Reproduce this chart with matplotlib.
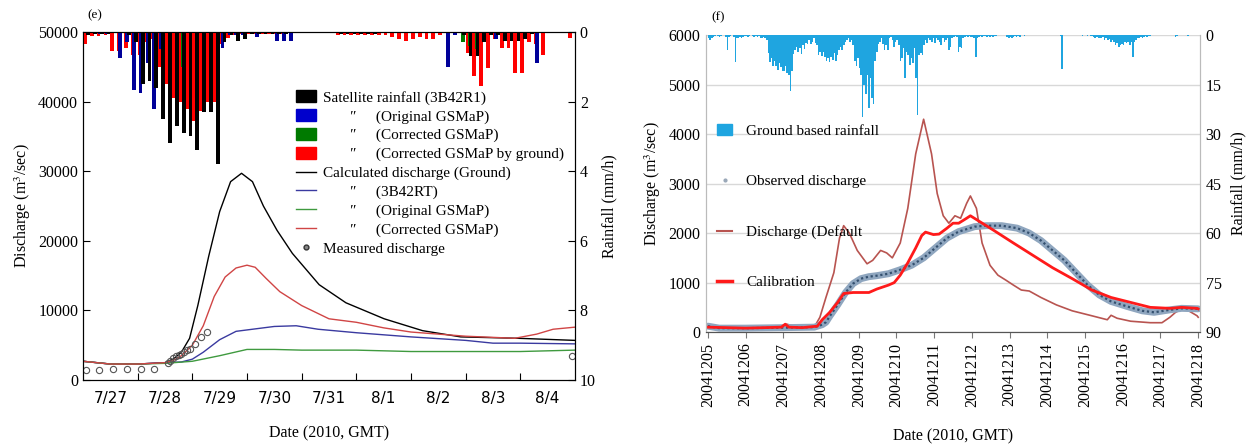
import numpy as np
import matplotlib
matplotlib.use("Agg")
import matplotlib.pyplot as plt
from matplotlib.patches import Patch
from matplotlib.lines import Line2D

plt.rcParams['font.family'] = ['Liberation Serif', 'DejaVu Serif']
plt.rcParams['mathtext.fontset'] = 'stix'

# ---------------- panel (e) data ----------------
day_labels_e = ['7/27', '7/28', '7/29', '7/30', '7/31', '8/1', '8/2', '8/3', '8/4']

# 3-hourly rainfall (mm/h), one row per day
rain_3b42 = [0.1, 0.05, 0.05, 0.05, 0, 0, 0.1, 0.3,
             1.5, 1.4, 1.6, 2.5, 3.2, 2.7, 2.9, 3.0,
             3.4, 2.3, 2.3, 3.8, 0.3, 0.1, 0.25, 0.2,
             0.05, 0.05, 0.05, 0.05, 0.05, 0.05, 0, 0,
             0, 0, 0, 0, 0, 0.05, 0.05, 0.05,
             0.05, 0.05, 0.05, 0, 0, 0, 0, 0,
             0, 0, 0, 0, 0, 0, 0, 0.1,
             0.7, 0.7, 0.3, 0.1, 0.1, 0.25, 0.25, 0.25,
             0.2, 0.05, 0, 0, 0, 0, 0, 0]
rain_gsmap = [0, 0, 0.05, 0.05, 0, 0.74, 0.3, 1.68,
              1.74, 0.9, 2.2, 0.5, 0, 0, 0, 0,
              0, 0, 0, 0, 0.45, 0.1, 0.1, 0.1,
              0, 0.15, 0, 0, 0.25, 0.25, 0.25, 0,
              0, 0, 0, 0, 0, 0, 0, 0,
              0, 0, 0, 0, 0, 0, 0, 0,
              0, 0, 0, 0, 0, 1.0, 0.1, 0,
              0, 0, 0, 0, 0.2, 0, 0, 0,
              0, 0, 0.88, 0, 0, 0, 0, 0]
rain_corr = [0, 0, 0, 0, 0, 0, 0, 0,
             0, 0, 0, 0, 0, 0, 1.0, 0,
             0, 0, 0, 0, 0, 0, 0, 0,
             0, 0, 0, 0, 0, 0, 0, 0,
             0, 0, 0, 0, 0, 0, 0, 0,
             0, 0, 0, 0, 0, 0, 0, 0,
             0, 0, 0, 0, 0, 0, 0, 0.3,
             0.4, 0.5, 0, 0, 0, 0, 0, 0,
             0, 0, 0, 0, 0, 0, 0, 0]
rain_ground = [0.36, 0.12, 0.12, 0.1, 0.55, 0.55, 0.45, 0.65,
               0.65, 0.3, 0.2, 1.0, 1.5, 1.9, 2.0, 2.2,
               2.55, 2.27, 2.0, 2.0, 0.36, 0.17, 0.1, 0.05,
               0.05, 0.05, 0.05, 0.05, 0.05, 0.05, 0, 0,
               0, 0, 0, 0, 0, 0.08, 0.08, 0.08,
               0.08, 0.08, 0.08, 0.08, 0.08, 0.15, 0.2, 0.25,
               0.2, 0.15, 0.2, 0.2, 0.1, 0, 0, 0,
               0.6, 1.27, 1.55, 1.03, 0.2, 0.45, 0.45, 1.17,
               1.17, 0.3, 0.36, 0.65, 0, 0, 0, 0.17]

# calculated discharge (days since 7/27 00:00, m3/s)
t_black = [0, 0.5, 1.0, 1.5, 1.65, 1.8, 1.95, 2.1, 2.3, 2.5, 2.7, 2.9, 3.1, 3.3,
           3.55, 3.83, 4.32, 4.81, 5.51, 6.21, 6.91, 7.96, 9.0]
q_black = [2700, 2300, 2300, 2500, 3000, 4000, 6000, 10700, 17800, 24200, 28500,
           29700, 28500, 25000, 21500, 18200, 13700, 11100, 8800, 7100, 6200, 6000, 5700]
t_blue = [0, 0.5, 1.0, 1.5, 1.8, 2.0, 2.2, 2.5, 2.8, 3.2, 3.5, 3.9, 4.3, 5.0, 6.0,
          7.0, 7.5, 8.0, 9.0]
q_blue = [2700, 2300, 2300, 2500, 2600, 3000, 4000, 5800, 7000, 7400, 7700, 7800,
          7300, 6800, 6200, 5700, 5300, 5300, 5200]
t_green = [0, 0.5, 1.0, 1.5, 2.0, 2.5, 3.0, 3.5, 4.0, 5.0, 6.0, 7.0, 8.0, 9.0]
q_green = [2700, 2300, 2300, 2400, 2700, 3500, 4400, 4400, 4300, 4300, 4100, 4100,
           4100, 4300]
t_red = [0, 0.5, 1.0, 1.5, 1.65, 1.8, 2.0, 2.2, 2.4, 2.6, 2.8, 3.0, 3.15, 3.35, 3.6,
         4.0, 4.5, 5.0, 5.5, 6.0, 7.0, 7.9, 8.3, 8.6, 9.0]
q_red = [2700, 2300, 2300, 2500, 2800, 3500, 5000, 7800, 12000, 14800, 16100, 16500,
         16200, 14600, 12700, 10700, 8800, 8300, 7500, 6900, 6300, 6000, 6600, 7300, 7600]
t_meas = [0.06, 0.3, 0.55, 0.81, 1.06, 1.3, 1.55, 1.6, 1.65, 1.7, 1.75, 1.8, 1.85,
          1.9, 1.95, 2.05, 2.15, 2.27, 8.95]
q_meas = [1400, 1400, 1650, 1650, 1650, 1650, 2500, 2800, 3100, 3400, 3600, 3800,
          4000, 4300, 4500, 5200, 6200, 6900, 3400]

# ---------------- panel (f) data ----------------
date_labels_f = ['20041205', '20041206', '20041207', '20041208', '20041209',
                 '20041210', '20041211', '20041212', '20041213', '20041214',
                 '20041215', '20041216', '20041217', '20041218']

# hourly ground rainfall (mm/h), one row per day
rain_f = [
    [1.0, 1.5, 1.0, 0.5, 0.3, 0, 0.3, 0.5, 0.3, 0, 0, 0.5, 4.6, 0.5, 0.3, 0, 0.5, 8.3, 1.0, 0.8, 0.5, 1.0, 0.5, 0.3],
    [0.3, 0.5, 0.3, 0, 0.3, 0.5, 0.3, 0.5, 0.3, 0.8, 1.0, 0.5, 1.0, 1.5, 5.5, 8.3, 7.0, 9.3, 8.0, 9.5, 10.5, 8.5, 9.8, 11.0],
    [10.9, 9.5, 11.5, 12.0, 17.0, 11.0, 5.7, 4.5, 3.5, 5.0, 4.0, 5.7, 3.0, 4.2, 2.5, 2.6, 1.5, 2.6, 2.0, 1.0, 2.5, 3.0, 6.0, 5.0],
    [6.2, 5.0, 6.5, 8.0, 7.0, 8.3, 6.5, 7.5, 5.5, 8.0, 6.0, 4.6, 3.5, 4.6, 3.0, 2.0, 1.5, 1.0, 2.0, 1.5, 3.0, 8.0, 9.5, 7.0],
    [10.0, 12.0, 24.8, 15.0, 18.0, 12.0, 22.0, 13.0, 19.0, 21.0, 8.0, 5.0, 2.6, 2.0, 1.0, 2.6, 4.6, 3.0, 4.6, 1.0, 0.5, 1.5, 3.5, 2.0],
    [1.5, 3.0, 7.8, 7.0, 4.0, 13.0, 5.0, 6.0, 9.0, 7.0, 8.5, 4.0, 13.0, 24.3, 6.0, 5.5, 6.0, 3.0, 1.5, 2.5, 1.0, 1.5, 2.0, 1.0],
    [2.5, 1.0, 1.5, 2.0, 3.0, 1.0, 2.0, 1.5, 1.0, 4.6, 3.5, 1.0, 0.5, 0.3, 0.5, 5.2, 3.5, 4.0, 1.0, 0.5, 0.3, 0.5, 0.3, 0.5],
    [0.5, 0.8, 6.7, 1.0, 0.5, 0.3, 0.5, 0.3, 0.3, 0.5, 0.3, 0.5, 0.3, 0.5, 0.3, 0.3, 0, 0, 0, 0, 0, 0, 0.5, 0.8],
    [0.5, 0.8, 0.5, 0.3, 0.5, 0.3, 0.5, 0, 0, 0.3, 0, 0, 0, 0, 0, 0, 0, 0, 0, 0, 0, 0, 0, 0],
    [0, 0, 0, 0, 0, 0, 0, 0, 0.3, 10.3, 0, 0, 0, 0, 0, 0, 0, 0, 0, 0, 0, 0, 0.3, 0],
    [0, 0.3, 0, 0.3, 0.3, 0.5, 0.8, 0.5, 1.0, 0.8, 1.0, 0.5, 1.5, 1.0, 1.5, 1.2, 2.0, 1.5, 2.0, 3.0, 2.5, 3.6, 3.0, 2.6],
    [3.0, 2.0, 2.5, 2.0, 3.0, 2.0, 6.7, 2.0, 1.5, 1.0, 0.8, 0.5, 0.8, 0.5, 0.3, 0.5, 0.3, 0.3, 0, 0, 0, 0, 0, 0],
    [0, 0, 0, 0, 0, 0, 0, 0, 0, 0.5, 0.3, 0, 0, 0, 0, 0, 0, 0.3, 0, 0, 0, 0, 0, 0],
]

# discharge (days since 12/05 00:00, m3/s)
obs_t = [0, 0.3, 1.0, 2.0, 2.82, 3.03, 3.13, 3.23, 3.44, 3.65, 3.85, 4.06, 4.27, 4.48,
         4.79, 5.1, 5.4, 5.72, 6.03, 6.34, 6.65, 7.07, 7.38, 7.79, 8.2, 8.52, 8.83,
         9.14, 9.45, 9.76, 10.07, 10.38, 10.69, 11.11, 11.52, 11.83, 12.25, 12.56, 13.0]
obs_q = [120, 80, 80, 90, 100, 150, 200, 320, 550, 800, 980, 1080, 1120, 1140, 1180,
         1260, 1350, 1500, 1700, 1900, 2030, 2130, 2150, 2150, 2100, 2000, 1850, 1650,
         1450, 1200, 950, 750, 620, 520, 430, 400, 450, 480, 470]
cal_t = [0, 1.0, 1.5, 1.95, 2.05, 2.15, 2.5, 2.9, 3.03, 3.23, 3.44, 3.6, 3.85, 4.27,
         4.48, 4.79, 4.94, 5.1, 5.3, 5.51, 5.67, 5.77, 5.98, 6.13, 6.34, 6.5, 6.65,
         6.86, 6.96, 7.17, 7.59, 8.1, 8.62, 9.14, 9.66, 10.18, 10.69, 11.21, 11.73,
         12.25, 12.56, 12.97, 13.0]
cal_q = [100, 80, 90, 100, 160, 100, 90, 120, 250, 400, 600, 780, 800, 800, 870, 950,
         1000, 1150, 1400, 1700, 1950, 2020, 1970, 1980, 2100, 2200, 2200, 2300, 2350,
         2250, 2050, 1800, 1550, 1300, 1080, 850, 700, 600, 500, 480, 500, 480, 470]
def_t = [0, 1.0, 1.9, 2.09, 2.4, 2.82, 2.97, 3.13, 3.34, 3.49, 3.6, 3.75, 3.96, 4.22,
         4.37, 4.58, 4.74, 4.89, 5.1, 5.3, 5.51, 5.72, 5.93, 6.08, 6.24, 6.39, 6.55,
         6.7, 6.86, 6.96, 7.12, 7.27, 7.48, 7.69, 7.9, 8.1, 8.31, 8.52, 8.83, 9.24,
         9.66, 10.18, 10.59, 10.69, 10.85, 11.21, 11.73, 12.04, 12.25, 12.4, 12.61,
         12.77, 12.97, 13.0]
def_q = [100, 80, 90, 160, 100, 100, 300, 700, 1200, 1900, 2150, 2000, 1650, 1380,
         1450, 1650, 1600, 1500, 1800, 2500, 3600, 4300, 3600, 2800, 2350, 2200, 2350,
         2300, 2600, 2750, 2500, 1800, 1350, 1150, 1050, 950, 850, 830, 700, 550, 430,
         330, 250, 340, 280, 220, 190, 190, 300, 400, 480, 420, 330, 300]

fig = plt.figure(figsize=(12.54, 4.44), dpi=100)

# ================= panel (e) =================
ax = fig.add_axes([0.0662, 0.144, 0.3923, 0.784])
lw = 1.0
ax.plot(t_black, q_black, color='black', lw=lw)
ax.plot(t_blue, q_blue, color='#3a3aa0', lw=lw)
ax.plot(t_green, q_green, color='#3f9a3f', lw=lw)
ax.plot(t_red, q_red, color='#d04545', lw=lw)
ax.plot(t_meas, q_meas, ls='none', marker='o', ms=4.5, mfc='none', mec='#555555', mew=0.8)
ax.set_xlim(0, 9)
ax.set_ylim(0, 50000)
ax.set_yticks(np.arange(0, 50001, 10000))
ax.set_xticks(np.arange(1, 9))
ax.set_xticklabels([])
ax.set_xticks(np.arange(9) + 0.5, minor=True)
ax.set_xticklabels(day_labels_e, minor=True, family=['Liberation Sans Narrow', 'DejaVu Sans'],
                   fontsize=11)
ax.tick_params(axis='x', which='major', direction='in', length=5)
ax.tick_params(axis='x', which='minor', length=0, pad=8)
ax.tick_params(axis='y', direction='in', length=5, labelsize=11.5)
ax.set_ylabel('Discharge (m$^3$/sec)', fontsize=11.5, labelpad=4)
ax.set_xlabel('Date (2010, GMT)', fontsize=11.5, labelpad=14)
fig.text(0.070, 0.965, '(e)', fontsize=9.5, ha='left', va='center')

axr = ax.twinx()
slot = 0.125
bw = slot * 0.55
n = len(rain_3b42)
base = np.arange(n) * slot
axr.bar(base, rain_ground, width=bw, align='edge', color='#ff0000', lw=0)
axr.bar(base + 0.15 * slot, rain_gsmap, width=bw, align='edge', color='#000099', lw=0)
axr.bar(base + 0.30 * slot, rain_corr, width=bw, align='edge', color='#007a00', lw=0)
axr.bar(base + 0.45 * slot, rain_3b42, width=bw, align='edge', color='black', lw=0)
axr.set_ylim(10, 0)
axr.set_yticks(np.arange(0, 11, 2))
axr.tick_params(axis='y', direction='in', length=5, labelsize=11.5)
axr.set_ylabel('Rainfall (mm/h)', fontsize=11.5, labelpad=4)
axr.set_xlim(0, 9)

q2 = '\u2033'
handles = [Patch(color='black'), Patch(color='#0000cc'), Patch(color='#007a00'),
           Patch(color='#ff0000'),
           Line2D([], [], color='black', lw=1), Line2D([], [], color='#3a3aa0', lw=1),
           Line2D([], [], color='#3f9a3f', lw=1), Line2D([], [], color='#d04545', lw=1),
           Line2D([], [], ls='none', marker='o', ms=3.5, mfc='#888888', mec='#333333')]
pre = '       ' + q2 + '     '
labels = ['Satellite rainfall (3B42R1)',
          pre + '(Original GSMaP)',
          pre + '(Corrected GSMaP)',
          pre + '(Corrected GSMaP by ground)',
          'Calculated discharge (Ground)',
          pre + '(3B42RT)',
          pre + '(Original GSMaP)',
          pre + '(Corrected GSMaP)',
          'Measured discharge']
leg = axr.legend(handles, labels, loc='upper left', bbox_to_anchor=(0.42, 0.85),
                 frameon=False, fontsize=11, handlelength=1.3, handleheight=0.8,
                 handletextpad=0.5, labelspacing=0.3, borderaxespad=0)

# ================= panel (f) =================
bx = fig.add_axes([0.563, 0.252, 0.394, 0.669])
bx.grid(axis='y', color='#d8d8d8', lw=1)
bx.set_axisbelow(True)
bx.plot(def_t, def_q, color='#b85450', lw=1.2)
bx.plot(obs_t, obs_q, color='#8fa6bf', lw=5, solid_capstyle='round')
bx.plot(obs_t, obs_q, color='#34506f', lw=1.6, ls=(0, (1, 1.2)))
bx.plot(cal_t, cal_q, color='#ff1a1a', lw=2.0)
bx.set_xlim(-0.05, 13.05)
bx.set_ylim(0, 6000)
bx.set_yticks(np.arange(0, 6001, 1000))
bx.set_xticks(np.arange(14))
bx.set_xticklabels(date_labels_f, rotation=90, fontsize=11.5)
bx.tick_params(axis='x', direction='out', length=4, color='#777777')
bx.tick_params(axis='y', length=0, labelsize=11.5, pad=4)
bx.spines['top'].set_visible(False)
bx.spines['left'].set_color('#bbbbbb')
bx.spines['right'].set_color('#bbbbbb')
bx.spines['bottom'].set_color('#555555')
bx.set_ylabel('Discharge (m$^3$/sec)', fontsize=11.5, labelpad=4)
bx.set_xlabel('Date (2010, GMT)', fontsize=11.5, labelpad=16)
fig.text(0.567, 0.962, '(f)', fontsize=9.5, ha='left', va='center')

bxr = bx.twinx()
rain_hourly = np.concatenate([np.array(d) for d in rain_f])
hours = np.arange(len(rain_hourly)) / 24.0
bxr.bar(hours, rain_hourly, width=1 / 24.0, align='edge', color='#1fa5e0', lw=0)
bxr.set_ylim(90, 0)
bxr.set_yticks(np.arange(0, 91, 15))
bxr.tick_params(axis='y', length=0, labelsize=11.5, pad=4)
bxr.set_xlim(-0.05, 13.05)
bxr.spines['top'].set_visible(False)
bxr.spines['left'].set_color('#bbbbbb')
bxr.spines['right'].set_color('#bbbbbb')
bxr.spines['bottom'].set_color('#555555')
bxr.set_ylabel('Rainfall (mm/h)', fontsize=11.5, labelpad=6)

fh = [Patch(color='#1fa5e0'),
      Line2D([], [], ls='none', marker='.', ms=4, color='#9aa8b8'),
      Line2D([], [], color='#b85450', lw=1.5),
      Line2D([], [], color='#ff1a1a', lw=2.5)]
fl = ['Ground based rainfall', 'Observed discharge', 'Discharge (Default', 'Calibration']
bxr.legend(fh, fl, loc='upper left', bbox_to_anchor=(0.01, 0.72), frameon=False,
           fontsize=11, handlelength=1.0, handletextpad=0.9, labelspacing=2.4,
           borderaxespad=0)

fig.savefig('out.png', dpi=100)
